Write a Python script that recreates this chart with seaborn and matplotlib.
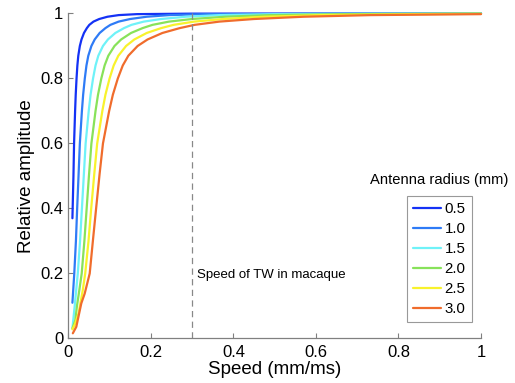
import matplotlib
matplotlib.use("Agg")
import pandas as pd
import matplotlib.pyplot as plt
import seaborn as sns

sns.set_theme(style="white")
plt.rcParams["font.family"] = ["Liberation Sans", "DejaVu Sans"]

# ---------------------------------------------------------------
# data
# ---------------------------------------------------------------

radii = ["0.5", "1.0", "1.5", "2.0", "2.5", "3.0"]
colors = ["#1432f5", "#2e7bf6", "#6ff2f8", "#88e25a", "#f8f22c", "#f06c2c"]

speed_05 = [0.010, 0.0125, 0.014, 0.0165, 0.018, 0.020, 0.022, 0.02425,
            0.028, 0.032, 0.038, 0.045, 0.051, 0.061, 0.075, 0.095, 0.122,
            0.1665, 0.30, 1.0]
amp_05 = [0.37, 0.50, 0.60, 0.70, 0.75, 0.80, 0.84, 0.87,
          0.90, 0.92, 0.94, 0.955, 0.965, 0.975, 0.983, 0.990, 0.995,
          0.998, 0.9995, 1.0]

speed_10 = [0.010, 0.0145, 0.0185, 0.0215, 0.0248, 0.028, 0.033, 0.036,
            0.040, 0.044, 0.0485, 0.056, 0.064, 0.076, 0.090, 0.102, 0.122,
            0.150, 0.190, 0.244, 0.333, 0.60, 1.0]
amp_10 = [0.11, 0.20, 0.30, 0.40, 0.50, 0.60, 0.70, 0.75,
          0.80, 0.84, 0.87, 0.90, 0.92, 0.94, 0.955, 0.965, 0.975,
          0.983, 0.990, 0.995, 0.998, 0.9995, 1.0]

speed_15 = [0.010, 0.0155, 0.023, 0.0285, 0.033, 0.0375, 0.042, 0.0495,
            0.054, 0.060, 0.066, 0.07275, 0.084, 0.096, 0.114, 0.135, 0.153,
            0.183, 0.225, 0.285, 0.366, 0.4995, 0.80, 1.0]
amp_15 = [0.031, 0.10, 0.20, 0.30, 0.40, 0.50, 0.60, 0.70,
          0.75, 0.80, 0.84, 0.87, 0.90, 0.92, 0.94, 0.955, 0.965,
          0.975, 0.983, 0.990, 0.995, 0.998, 0.9995, 1.0]

speed_20 = [0.010, 0.017, 0.021, 0.0255, 0.0325, 0.039, 0.0445, 0.050,
            0.056, 0.066, 0.072, 0.080, 0.088, 0.097, 0.112, 0.128, 0.152,
            0.180, 0.204, 0.244, 0.300, 0.380, 0.488, 0.666, 1.0]
amp_20 = [0.031, 0.056, 0.10, 0.138, 0.20, 0.30, 0.40, 0.50,
          0.60, 0.70, 0.75, 0.80, 0.84, 0.87, 0.90, 0.92, 0.94,
          0.955, 0.965, 0.975, 0.983, 0.990, 0.995, 0.998, 0.9995]

speed_25 = [0.010, 0.0165, 0.025, 0.035, 0.041, 0.049, 0.0555, 0.0625,
            0.070, 0.0825, 0.090, 0.100, 0.110, 0.12125, 0.140, 0.160, 0.190,
            0.225, 0.255, 0.305, 0.375, 0.475, 0.610, 0.8325, 1.0]
amp_25 = [0.028, 0.045, 0.078, 0.148, 0.20, 0.30, 0.40, 0.50,
          0.60, 0.70, 0.75, 0.80, 0.84, 0.87, 0.90, 0.92, 0.94,
          0.955, 0.965, 0.975, 0.983, 0.990, 0.995, 0.998, 0.999]

speed_30 = [0.011, 0.0194, 0.0315, 0.0397, 0.0519, 0.0598, 0.0678, 0.076,
            0.084, 0.099, 0.108, 0.120, 0.132, 0.1455, 0.168, 0.192, 0.228,
            0.270, 0.306, 0.366, 0.450, 0.570, 0.732, 1.0]
amp_30 = [0.016, 0.036, 0.108, 0.138, 0.20, 0.303, 0.405, 0.508,
          0.60, 0.70, 0.75, 0.80, 0.84, 0.87, 0.90, 0.92, 0.94,
          0.955, 0.965, 0.975, 0.983, 0.990, 0.995, 0.998]

tw_speed = 0.3
ticks = [0, 0.2, 0.4, 0.6, 0.8, 1]
tick_labels = ["0", "0.2", "0.4", "0.6", "0.8", "1"]

series = [(speed_05, amp_05), (speed_10, amp_10), (speed_15, amp_15),
          (speed_20, amp_20), (speed_25, amp_25), (speed_30, amp_30)]

frames = []
for r, (x, y) in zip(radii, series):
    frames.append(pd.DataFrame({"speed": x, "amp": y, "radius": r}))
df = pd.concat(frames, ignore_index=True)

# ---------------------------------------------------------------
# plot
# ---------------------------------------------------------------

fig = plt.figure(figsize=(5.15, 3.83), dpi=100)
ax = fig.add_axes([0.1326, 0.1162, 0.8014, 0.8486])

sns.lineplot(
    data=df, x="speed", y="amp",
    hue="radius", hue_order=radii, palette=colors,
    estimator=None, sort=False, linewidth=1.6, ax=ax
)
for line in ax.get_lines():
    line.set_clip_on(False)
    line.set_solid_joinstyle("round")

ax.axvline(tw_speed, color="#888888", linewidth=0.9, linestyle=(0, (5, 3.5)))
ax.text(0.311, 0.195, "Speed of TW in macaque", fontsize=9.5,
        va="center", ha="left", color="black")

ax.set_xlim(0, 1)
ax.set_ylim(0, 1)
ax.set_xticks(ticks)
ax.set_xticklabels(tick_labels)
ax.set_yticks(ticks)
ax.set_yticklabels(tick_labels)

for side in ["top", "right"]:
    ax.spines[side].set_visible(False)
for side in ["left", "bottom"]:
    ax.spines[side].set_color("#808080")
    ax.spines[side].set_linewidth(0.9)

ax.tick_params(axis="both", direction="in", length=3.5, width=0.8,
               color="#808080", labelsize=12, labelcolor="black")
ax.tick_params(axis="x", pad=4.5)
ax.tick_params(axis="y", pad=3.5)
ax.tick_params(left=True, bottom=True)

ax.set_xlabel("Speed (mm/ms)", fontsize=13.5, color="black", labelpad=1)
ax.set_ylabel("Relative amplitude", fontsize=13.5, color="black", labelpad=4)

handles, labels = ax.get_legend_handles_labels()
leg = ax.legend(
    handles, labels, loc="lower right", bbox_to_anchor=(0.9775, 0.05),
    fontsize=10.8, frameon=True, fancybox=False, edgecolor="#808080",
    handlelength=1.85, handletextpad=0.25, labelspacing=0.4,
    borderpad=0.4, borderaxespad=0
)
leg.get_frame().set_linewidth(0.8)
for t in leg.get_texts():
    t.set_color("black")

ax.text(0.898, 0.488, "Antenna radius (mm)", transform=ax.transAxes,
        ha="center", va="center", fontsize=10.6, color="black")

fig.savefig("out.png", dpi=100)
